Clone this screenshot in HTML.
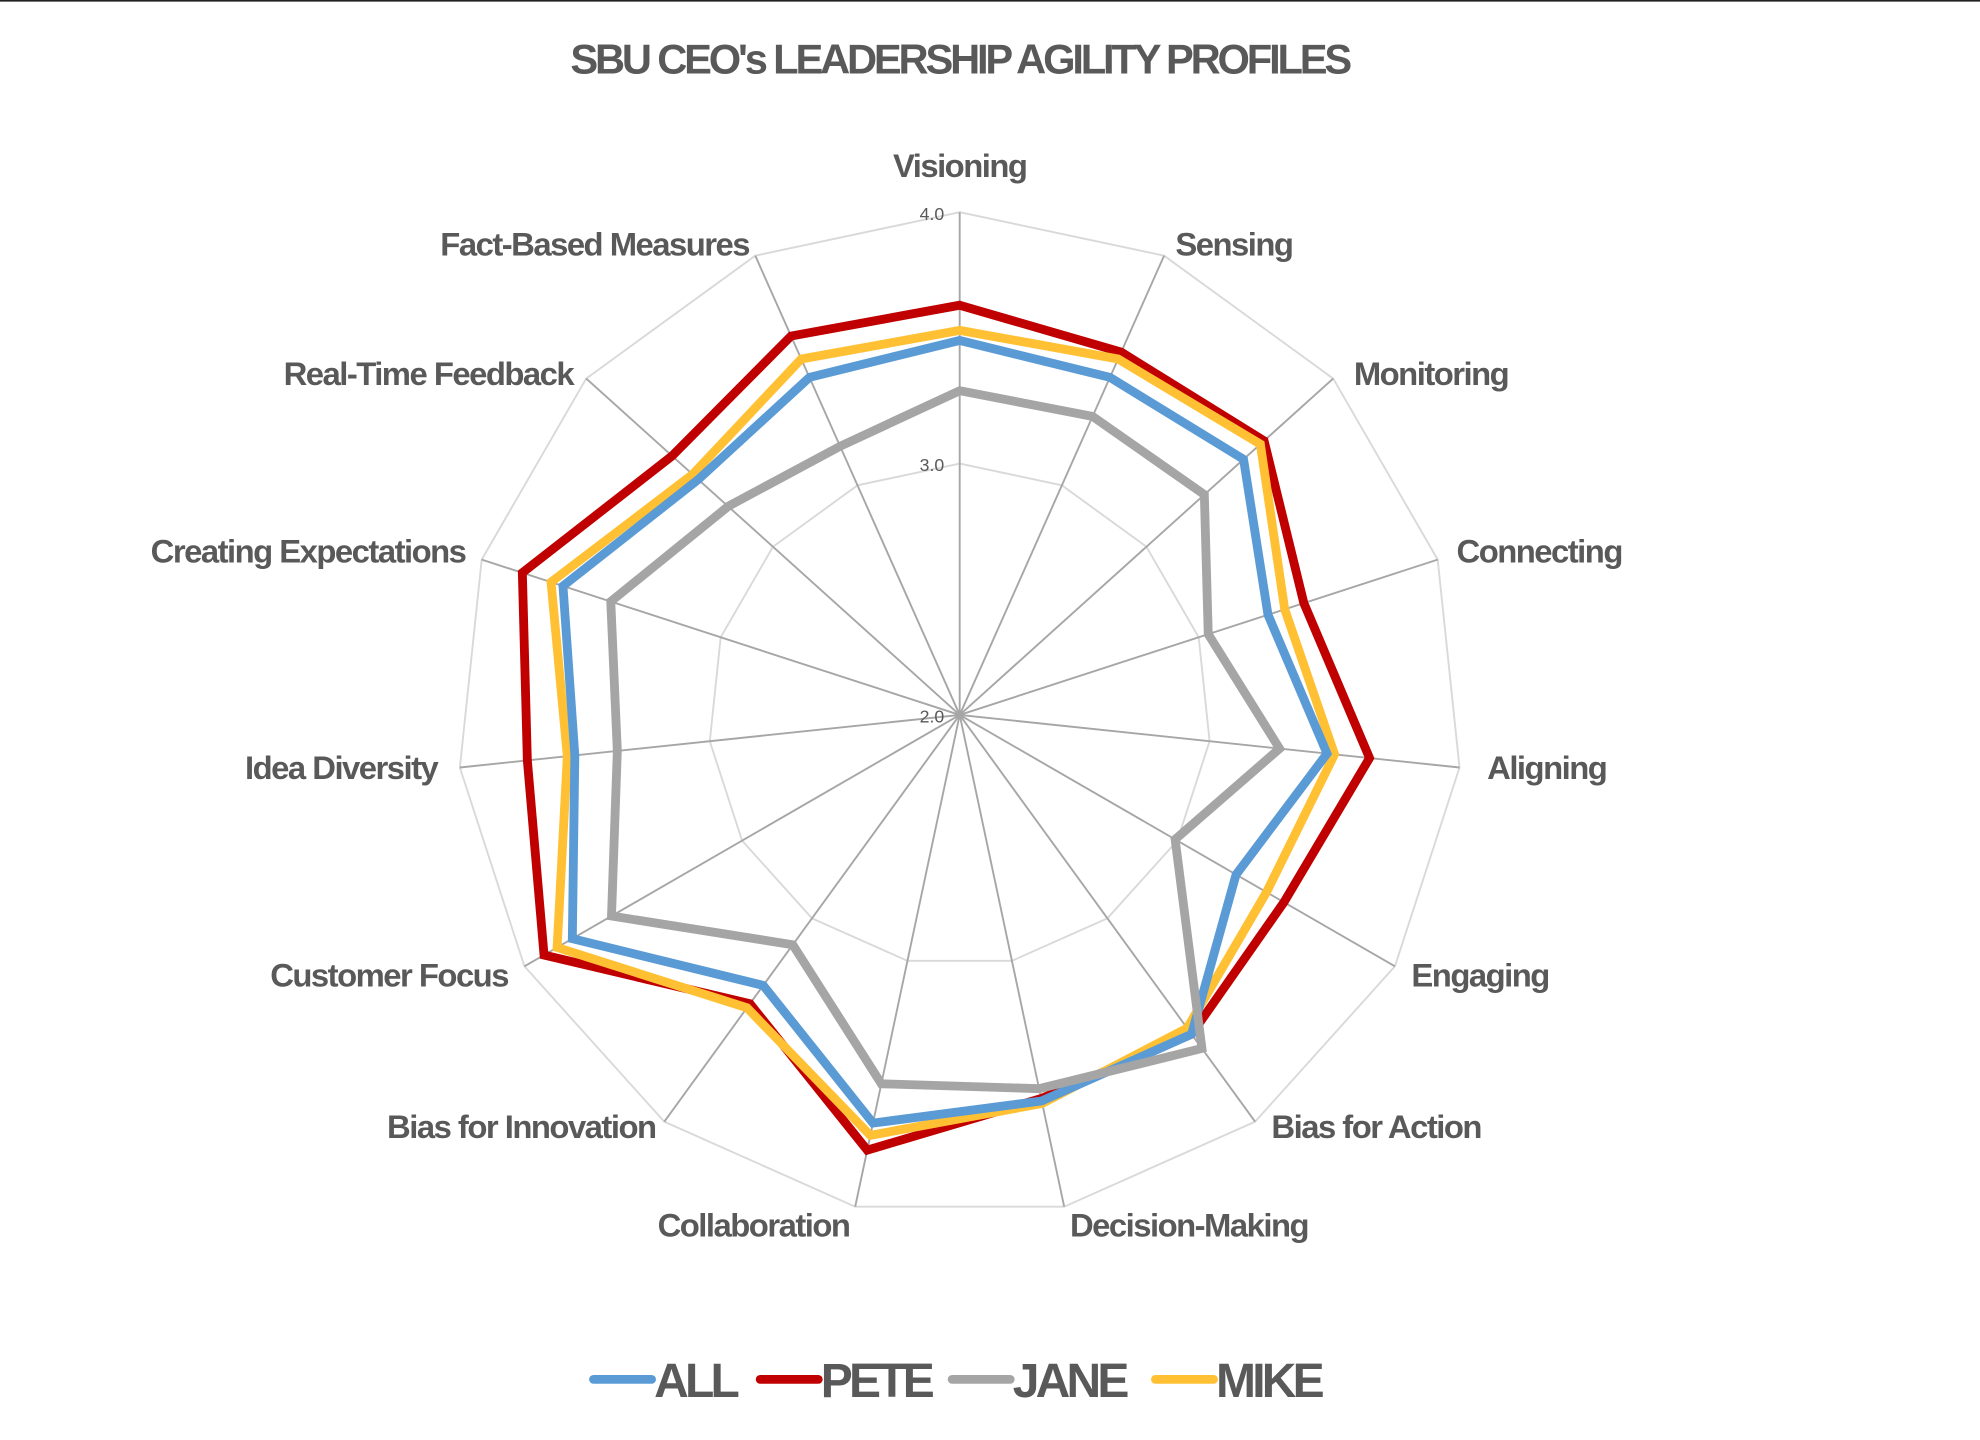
<!DOCTYPE html>
<html><head><meta charset="utf-8"><style>
html,body{margin:0;padding:0;background:#fff;}
svg{display:block;font-family:"Liberation Sans",sans-serif;}
</style></head><body>
<svg id="chart" width="1980" height="1440" viewBox="0 0 1568 1140" preserveAspectRatio="none" xmlns="http://www.w3.org/2000/svg">
<rect x="0" y="0" width="1568" height="1140" fill="#fff"/>
<line x1="0" y1="0.5" x2="1568" y2="0.5" stroke="#222" stroke-width="1.5"/>
<text x="760" y="58" text-anchor="middle" font-size="33" font-weight="bold" fill="#595959" letter-spacing="-2.5">SBU CEO's LEADERSHIP AGILITY PROFILES</text>
<g id="grid"></g>
<g id="series"></g>
<g id="labels"></g>
<g id="legend"></g>
</svg>
<script>
const categories=["Visioning","Sensing","Monitoring","Connecting","Aligning","Engaging","Bias for Action","Decision-Making","Collaboration","Bias for Innovation","Customer Focus","Idea Diversity","Creating Expectations","Real-Time Feedback","Fact-Based Measures"];
const seriesNames=["ALL","PETE","JANE","MIKE"];
const allValues=[3.49,3.47,3.52,3.29,3.47,3.27,3.57,3.57,3.66,3.33,3.78,3.54,3.66,3.40,3.47];
const peteValues=[3.63,3.58,3.63,3.44,3.64,3.49,3.57,3.56,3.77,3.42,3.91,3.73,3.83,3.54,3.65];
const janeValues=[3.29,3.30,3.31,3.04,3.28,2.99,3.64,3.52,3.50,3.13,3.60,3.37,3.46,3.24,3.17];
const mikeValues=[3.53,3.55,3.61,3.36,3.50,3.41,3.54,3.58,3.71,3.44,3.85,3.57,3.71,3.43,3.55];
const tickLabels=["2.0","3.0","4.0"];
const tickValues=[2,3,4];

const NS="http://www.w3.org/2000/svg";
const cx=760,cy=566,R=398,vMin=2,vMax=4;
const colors=["#5b9bd5","#c00000","#a5a5a5","#ffc133"];
const data=[allValues,peteValues,janeValues,mikeValues];
const drawOrder=[1,3,0,2];
const labelDy=[0,11,11,0,-2,-4,-14,0,0,-14,-4,-2,0,11,11];
const labelDx=[0,0,0,-6,0,-6,0,0,0,6,6,4,8,6,4];
function rScale(v){return (v-vMin)/(vMax-vMin)*R;}
function ang(i){return i*2*Math.PI/categories.length;}
function pt(i,v){const r=rScale(v),a=ang(i);return [cx+r*Math.sin(a),cy-r*Math.cos(a)];}
function mk(tag,attrs,parent){const e=document.createElementNS(NS,tag);for(const k in attrs)e.setAttribute(k,attrs[k]);parent.appendChild(e);return e;}
const grid=document.getElementById('grid');
[3,4].forEach(v=>{
  const p=mk('polygon',{points:categories.map((c,i)=>pt(i,v).join(',')).join(' '),fill:'none',stroke:'#d9d9d9','stroke-width':1.5},grid);
  
  
});
categories.forEach((c,i)=>{
  const e=pt(i,4);
  const l=mk('line',{x1:cx,y1:cy,x2:e[0],y2:e[1],stroke:'#a6a6a6','stroke-width':1.5},grid);
  
  
});
tickValues.forEach((v,k)=>{
  const p=pt(0,v);
  const t=mk('text',{x:p[0]-22,y:p[1]+6,'font-size':14,fill:'#595959','text-anchor':'middle'},grid);
  t.textContent=tickLabels[k];
  
  
});
const sg=document.getElementById('series');
drawOrder.forEach(s=>{
  const p=mk('polygon',{points:data[s].map((v,i)=>pt(i,v).join(',')).join(' '),fill:'none',stroke:colors[s],'stroke-width':7,'stroke-linejoin':'miter'},sg);
  
  
});
const lg=document.getElementById('labels');
categories.forEach((c,i)=>{
  const a=ang(i),s=Math.sin(a),co=Math.cos(a);
  const r=R+22;
  let x=cx+r*s+labelDx[i],y=cy-r*co+9+labelDy[i];
  let anchor='middle';
  if(s>0.2)anchor='start';else if(s<-0.2)anchor='end';
  if(i===0)y=cy-R-28;
  if(i===7||i===8){y=cy+R+15;}
  const t=mk('text',{x:x,y:y,'text-anchor':anchor,'font-size':26,'font-weight':'bold',fill:'#595959','letter-spacing':-1.2},lg);
  t.textContent=c;
  
  
});
const leg=document.getElementById('legend');
const lx=[470,602,754,915];
seriesNames.forEach((n,s)=>{
  const l=mk('line',{x1:lx[s],y1:1092,x2:lx[s]+46,y2:1092,stroke:colors[s],'stroke-width':7,'stroke-linecap':'round'},leg);
  
  
  const t=mk('text',{x:lx[s]+48,y:1106,'font-size':38,'font-weight':'bold',fill:'#595959','letter-spacing':-3},leg);
  t.textContent=n;
  
  
});
</script>
</body></html>
